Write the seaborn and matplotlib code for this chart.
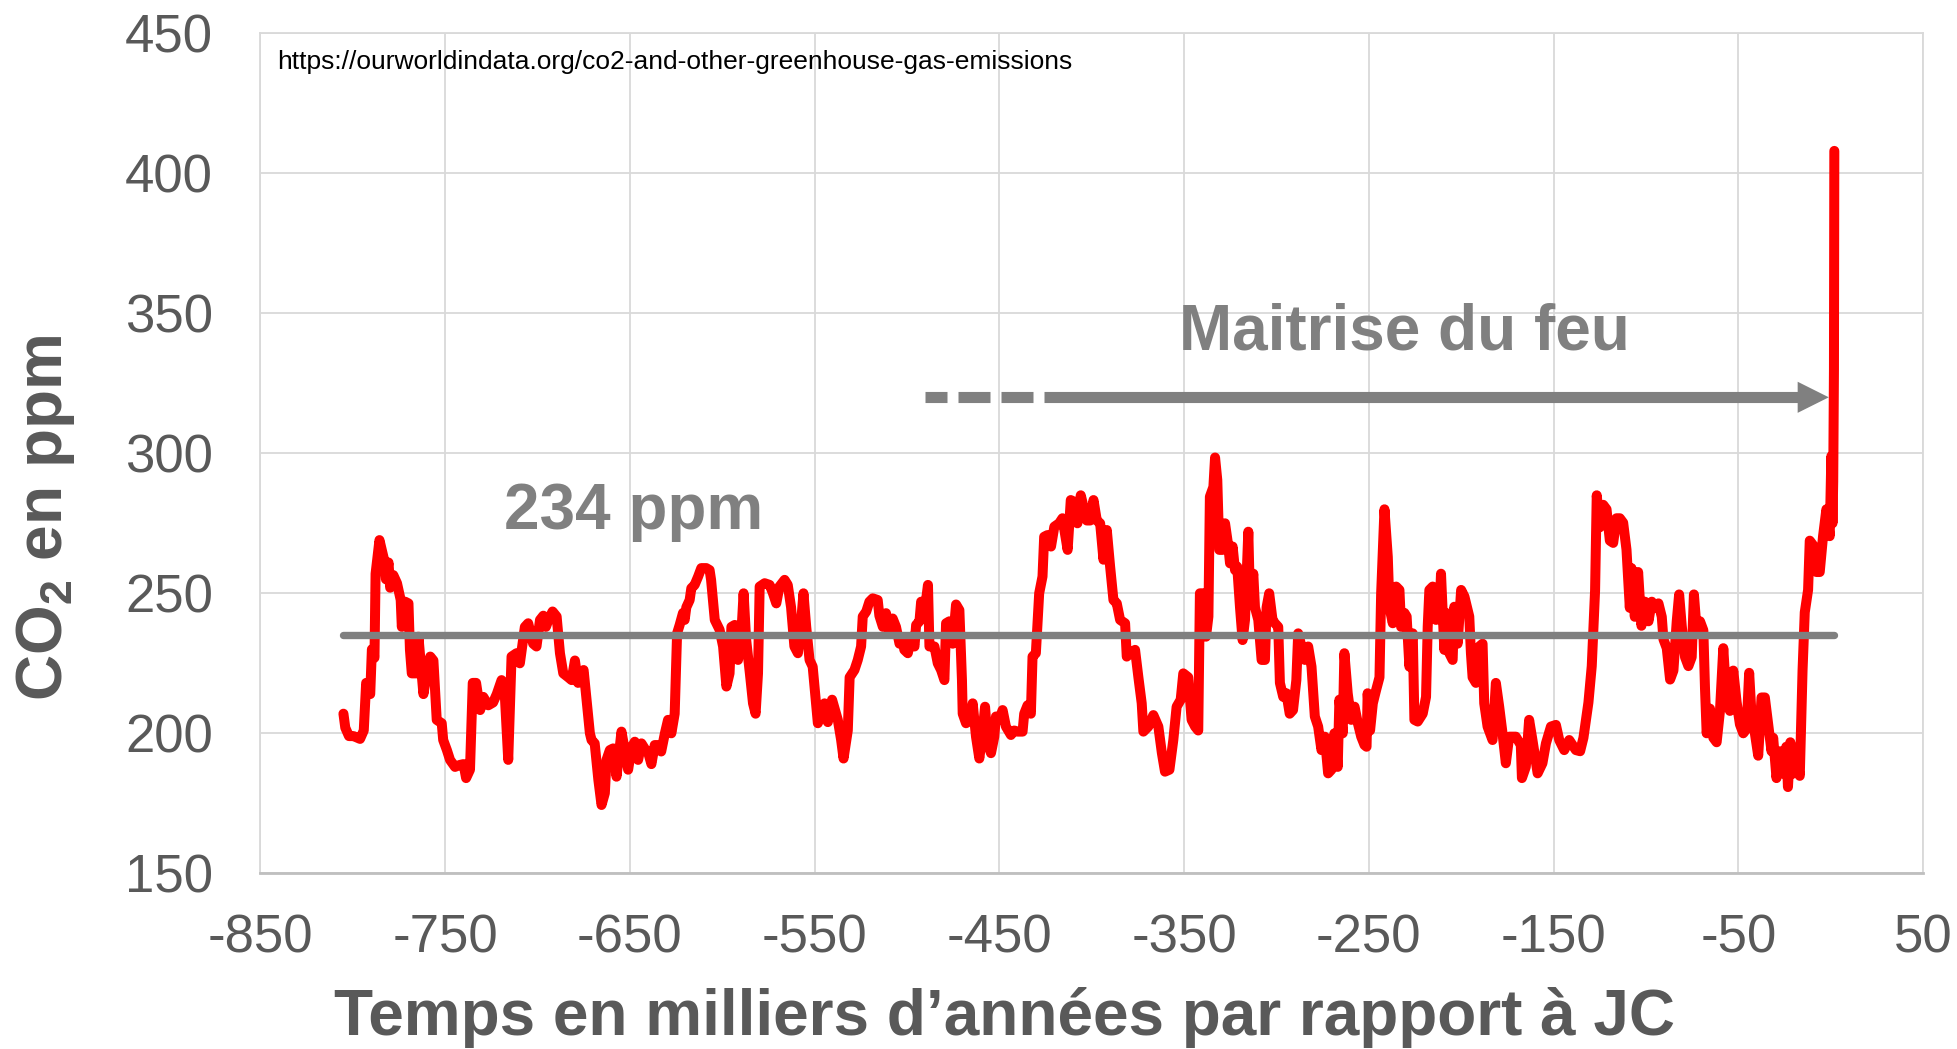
import matplotlib
matplotlib.use("Agg")
import matplotlib.pyplot as plt
import seaborn as sns
import pandas as pd

# ---------------- data ----------------
years_kyr = [
    -805, -804, -802, -799.5, -796, -794, -792.7, -790.5, -789.6, -788.2, -787.6, -785.5, -783, -782,
    -780.6, -779.7, -778, -776, -774, -773.4, -771.6, -769.8, -769, -768, -765.3, -764.4, -761.7, -760,
    -758, -756.3, -754.5, -751.8, -751, -749, -747.3, -744.6, -742, -740, -738.6, -736.5, -735, -733.2,
    -731, -729.3, -726.6, -724, -722, -719.4, -717.6, -715.8, -714, -711.3, -709.5, -706.8, -705, -702.3,
    -700.5, -698.6, -696.8, -695.4, -694, -691.8, -689.6, -687.8, -686, -683.3, -681.5, -679.7, -678, -675,
    -673.4, -671.6, -670.7, -669, -667, -665.3, -663.5, -662.6, -660.8, -659, -657.2, -655.8, -654.5,
    -652.7, -650.9, -649, -647.3, -645.5, -643.7, -642, -640, -638.3, -636.5, -634.7, -633, -631, -629.3,
    -627.5, -625.7, -624.4, -623, -621.2, -620.3, -619.4, -617.6, -616.7, -614.9, -613, -611.3, -608.6,
    -606.8, -606, -604, -601.4, -599.5, -597.7, -596, -595, -593.2, -591.4, -589.6, -588.4, -587, -585,
    -583.3, -581.9, -580.6, -579.7, -577, -574.3, -572.5, -570.7, -569, -566.2, -564.5, -562.7, -560.9,
    -559, -557.3, -556, -554.5, -552.7, -551, -550, -548.2, -546.4, -544.6, -542.8, -540.5, -537.4, -535.6,
    -534.3, -532, -531, -528.4, -526.6, -524.8, -523.9, -522, -520.3, -518.5, -515.8, -514.9, -513, -511.3,
    -509.5, -507.7, -505.9, -504, -502.3, -501.4, -499.5, -497.7, -495.9, -495, -493.2, -492.3, -490.5,
    -489.6, -488.6, -487.8, -485.1, -483.3, -481.5, -479.7, -478.8, -477, -475.2, -473.4, -471.6, -470.2,
    -469.8, -468, -465.3, -464.4, -462.6, -460.8, -459, -457.7, -456.3, -454.5, -452.7, -451.8, -450,
    -448.2, -446.4, -443.7, -441.9, -440.1, -437.4, -436.5, -434.7, -432.9, -432, -430.2, -428.4, -426.6,
    -425.7, -423.9, -422, -420.2, -417.6, -415.8, -413, -411.3, -409.5, -407.7, -405.9, -402.6, -400.8,
    -399, -397.2, -395.4, -393.6, -391.8, -390, -388.2, -386.4, -384.6, -381.9, -381, -379.2, -376.5,
    -374.7, -372.9, -372, -369.3, -366.6, -363.9, -362, -360.3, -357.9, -355.8, -354, -351.8, -350.4,
    -347.7, -345.9, -344, -342.3, -341.4, -339.5, -338.1, -336.8, -336, -334.1, -333.2, -332, -330.9,
    -329.1, -327.8, -326, -325.1, -323.7, -322.4, -321.2, -319.7, -318.3, -317, -315.2, -314.3, -312.5,
    -311.6, -309.8, -308, -306.2, -305.3, -303.9, -302.1, -300.8, -299, -298.1, -296.3, -294.6, -292.8,
    -291, -289.2, -288.2, -286.4, -284.6, -282.8, -281, -279.2, -277.4, -275.6, -273.8, -272, -270.2,
    -268.6, -266.8, -265.9, -264.1, -263.2, -261.4, -259.5, -257.7, -255.9, -254.1, -252.3, -251.2,
    -250.6, -249.3, -247.8, -246, -244.2, -243.3, -241.5, -239.7, -238.8, -237, -235.2, -233.4, -232.5,
    -230.7, -229.5, -228, -226.2, -225.3, -223.5, -220.8, -219, -218.1, -217.2, -215.4, -213.6, -211.8,
    -210.9, -209.1, -207.8, -206.4, -204.6, -203.7, -201.9, -200, -198.2, -195.6, -194.7, -193.8, -192,
    -190.2, -188.4, -187.5, -185.7, -183, -181.2, -179.4, -177.6, -175.8, -174, -170.4, -167.7, -167.1,
    -165, -163.2, -161.4, -158.6, -156, -154.1, -151.4, -148.7, -146.9, -144.2, -141.5, -137.9, -135.6,
    -133.8, -131.1, -129.3, -127.5, -126.6, -124.9, -123.1, -121.3, -119.5, -117.7, -115.9, -114.1,
    -112.3, -110.5, -108.7, -107.8, -106, -104.2, -102.4, -100.5, -98.6, -96.8, -95, -93.2, -91.4, -90.5,
    -88.7, -86.9, -85.1, -83.3, -82, -80.6, -78.8, -77, -75.2, -74, -72.5, -70.7, -68.9, -68, -67.1,
    -65.3, -63.5, -61.7, -59.9, -58.1, -56.3, -54.5, -52.7, -50.9, -49.1, -47.3, -45.5, -44.1, -42.8,
    -41, -39.2, -37.4, -35.6, -33.8, -32, -31.1, -29.3, -27.5, -25.8, -24, -23.1, -21.8, -20.3, -18.5,
    -16.7, -15.2, -14, -12.2, -11.3, -9.5, -7.7, -5.9, -4.1, -2.3, -0.5, 0.4, 1.0, 1.4, 1.8, 2.0,
]
co2_ppm = [
    207, 202, 199, 199, 198, 201, 218, 214, 230, 227, 257, 269, 262, 255,
    261, 252, 256.5, 253.6, 247.6, 238, 247, 246.4, 229.8, 221.4, 221.4, 234.5, 214, 221,
    227.4, 226, 204.8, 203.6, 197.6, 194, 190.5, 188, 188.7, 189, 184, 187, 218, 218,
    208.3, 213, 210, 211, 214, 219, 213, 190.5, 227.4, 228.6, 225, 238, 239.3, 232,
    231, 240.5, 242, 238, 240.5, 243.5, 241.7, 228.6, 221.4, 220, 219, 226, 218, 222.6,
    212, 200, 197.6, 196.4, 183.3, 174.4, 178.6, 190.5, 194, 194.6, 184.5, 193, 200.6,
    194, 187, 195, 197, 190.5, 196.4, 194.6, 193, 189, 195.8, 195.8, 193.5, 200, 204.8,
    200, 207, 235.7, 238.7, 243, 240.5, 245, 247.6, 251.8, 253, 256, 259, 259,
    258.3, 254.8, 240.5, 237, 231, 216.7, 221.4, 238, 238.7, 226.2, 235.7, 250, 233.3, 221.4,
    210.7, 207, 221.4, 252.4, 253.6, 253, 250, 246.4, 252.4, 254.8, 253, 245, 231,
    228.6, 239.3, 250, 238, 226.2, 223.8, 216.7, 203.6, 207, 210.7, 204, 212, 204.8, 197.6,
    191, 201, 220, 222.6, 226.2, 231, 241.7, 243.5, 247, 248.2, 247.6, 242, 238, 242.9,
    235.7, 241, 238, 232, 233.3, 229.8, 228.6, 234.5, 231, 238.7, 240, 247, 243,
    247.6, 253, 231, 231, 225, 222.6, 219, 239.3, 240, 232, 246, 244, 219,
    207, 203.6, 204.8, 210.7, 198.8, 191, 200.6, 209.5, 196.4, 192.9, 198.8, 206, 204.8,
    208.3, 202.4, 199.4, 201, 200.6, 200.6, 207, 210, 207, 227.4, 228.6, 250, 256,
    270.2, 270.8, 266.7, 273.8, 275, 276.8, 265.5, 283.3, 282.7, 275, 285, 276, 276,
    283.3, 276, 275, 262, 272.6, 259.5, 247.6, 246.4, 240.5, 239.3, 227.4, 228.6, 229.8,
    220, 210.7, 200.6, 202.4, 206.5, 202.4, 193, 186.3, 187, 197.6, 209.5, 212, 221.4,
    220, 204.8, 202.4, 201, 250, 250, 234.5, 241.7, 284.5, 288, 298.5, 290.5, 265.5,
    265.5, 275, 266.7, 260.7, 266.7, 258.3, 259.5, 245, 233.3, 240.5, 272, 247.6, 257,
    245, 240.5, 226.2, 226.2, 245, 250, 240.5, 239.3, 238, 218, 213, 214.3, 207,
    208.3, 219, 235.7, 231, 226.2, 231, 223.8, 206, 202.4, 194, 198.8, 185.7, 187,
    200, 188, 212, 200, 228.6, 214.3, 204.8, 209.5, 203.6, 198.8, 195.8, 195.2,
    214.3, 201, 210.7, 215.5, 220, 250, 280, 263, 245, 239.3, 252.4, 251.2, 238,
    243, 241.7, 223.8, 235.7, 204.8, 204.2, 207, 213, 238, 251.2, 252.4, 240.5, 241.7,
    257, 229.8, 242.9, 228.6, 226.2, 245.2, 232, 251.2, 248.8, 241.7, 228.6, 220, 218,
    231, 232, 210.7, 202.4, 197.6, 218, 209.5, 200, 189.3, 198.8, 198.8, 195.8, 184,
    188, 204.8, 197.6, 185.7, 189.3, 196.4, 202.4, 203, 197.6, 194, 197.6, 194, 193.6,
    198.4, 211, 224, 251, 285, 273.6, 281.6, 280, 268.8, 268, 276.8, 276.8,
    275.2, 265.6, 244.8, 259, 241.6, 257.6, 238.4, 247, 240, 247, 244.8, 246.4, 241.6, 233.6,
    230.4, 219.2, 222.4, 240, 249.6, 238.4, 227.2, 224, 227.2, 249.6, 236.8, 240, 236.8, 216, 200,
    208.8, 198.4, 196.8, 208, 230.4, 211.2, 208, 222.4, 211.2, 203.2, 200, 201.6, 221.6, 206.4,
    200, 192, 212.8, 212.8, 203.2, 193.6, 198.4, 184, 193.6, 185.6, 195.2, 180.8, 196.8, 185.6, 192,
    184.8, 222.4, 243.2, 251.2, 268.8, 267.2, 257.6, 257.6, 270.4, 280, 270.4, 299, 275, 290, 330, 408,
]

x_ticks = [-850, -750, -650, -550, -450, -350, -250, -150, -50, 50]
x_tick_labels = ["-850", "-750", "-650", "-550", "-450", "-350", "-250", "-150", "-50", "50"]
y_ticks = [150, 200, 250, 300, 350, 400, 450]
y_tick_labels = ["150", "200", "250", "300", "350", "400", "450"]

mean_level = 235
mean_text = "234 ppm"
fire_text = "Maitrise du feu"
fire_level = 320
fire_start_dashed = [(-490.3, -478.2), (-472.4, -455.1), (-449.0, -431.6)]
fire_solid_start = -425.7
fire_tip = -1.0
source_text = "https://ourworldindata.org/co2-and-other-greenhouse-gas-emissions"
x_label = "Temps en milliers d\u2019années par rapport à JC"
y_label = r"CO$_\mathbf{2}$ en ppm"

# ---------------- style ----------------
sns.set_theme(style="white")
plt.rcParams["font.family"] = ["Liberation Sans", "DejaVu Sans"]
plt.rcParams["mathtext.fontset"] = "custom"
plt.rcParams["mathtext.rm"] = "Liberation Sans:bold"
plt.rcParams["mathtext.bf"] = "Liberation Sans:bold"
plt.rcParams["axes.unicode_minus"] = False

RED = "#FF0000"
GRAY = "#808080"
DARK = "#595959"
GRID = "#D9D9D9"

W, H = 1957, 1049
fig = plt.figure(figsize=(W / 100, H / 100), dpi=100)
left, right, top, bottom = 260.3, 1923.0, 33.3, 873.3
ax = fig.add_axes([left / W, 1 - bottom / H, (right - left) / W, (bottom - top) / H])

df = pd.DataFrame({"temps": years_kyr, "co2": co2_ppm})
sns.lineplot(data=df, x="temps", y="co2", ax=ax, color=RED, linewidth=7.2,
             sort=False, estimator=None, solid_joinstyle="round",
             solid_capstyle="round", zorder=3)

# mean line
ax.plot([min(years_kyr), max(years_kyr)], [mean_level, mean_level], color=GRAY,
        linewidth=5.3, solid_capstyle="round", zorder=4)

# fire-mastery arrow
for a, b in fire_start_dashed:
    ax.plot([a, b], [fire_level, fire_level], color=GRAY, linewidth=8,
            solid_capstyle="butt", zorder=4)
ax.plot([fire_solid_start, fire_tip - 16], [fire_level, fire_level], color=GRAY,
        linewidth=8, solid_capstyle="butt", zorder=4)
ax.annotate("", xy=(fire_tip, fire_level), xytext=(fire_tip - 20, fire_level),
            arrowprops=dict(arrowstyle="-|>,head_length=1.12,head_width=0.56",
                            mutation_scale=20, lw=0, color=GRAY,
                            shrinkA=0, shrinkB=0), zorder=4)

ax.text(-648, 273, mean_text, ha="center", va="baseline", fontsize=46,
        fontweight="bold", color=GRAY, zorder=5)
ax.text(-230.5, 337, fire_text, ha="center", va="baseline", fontsize=46,
        fontweight="bold", color=GRAY, zorder=5)

# axes
ax.set_xlim(-850, 50)
ax.set_ylim(150, 450)
ax.set_xticks(x_ticks)
ax.set_xticklabels(x_tick_labels)
ax.set_yticks(y_ticks)
ax.set_yticklabels(y_tick_labels)
ax.tick_params(axis="both", length=0, labelsize=38, labelcolor=DARK)
ax.tick_params(axis="x", pad=29)
ax.tick_params(axis="y", pad=34)
ax.grid(True, color=GRID, linewidth=1.3)
ax.set_axisbelow(True)
for s in ["left", "right", "top"]:
    ax.spines[s].set_color(GRID)
    ax.spines[s].set_linewidth(1.3)
ax.spines["bottom"].set_color("#BFBFBF")
ax.spines["bottom"].set_linewidth(2)
ax.set_xlabel("")
ax.set_ylabel("")

fig.text(277 / W, 1 - 50 / H, source_text, ha="left", va="top", fontsize=19, color="black")
fig.text(1005 / W, 1 - 1018 / H, x_label, ha="center", va="center", fontsize=46,
         fontweight="bold", color=DARK)
fig.text(46 / W, 1 - 518 / H, y_label, ha="center", va="center", fontsize=46,
         fontweight="bold", color=DARK, rotation=90)

fig.savefig("out.png", dpi=100, facecolor="white")
